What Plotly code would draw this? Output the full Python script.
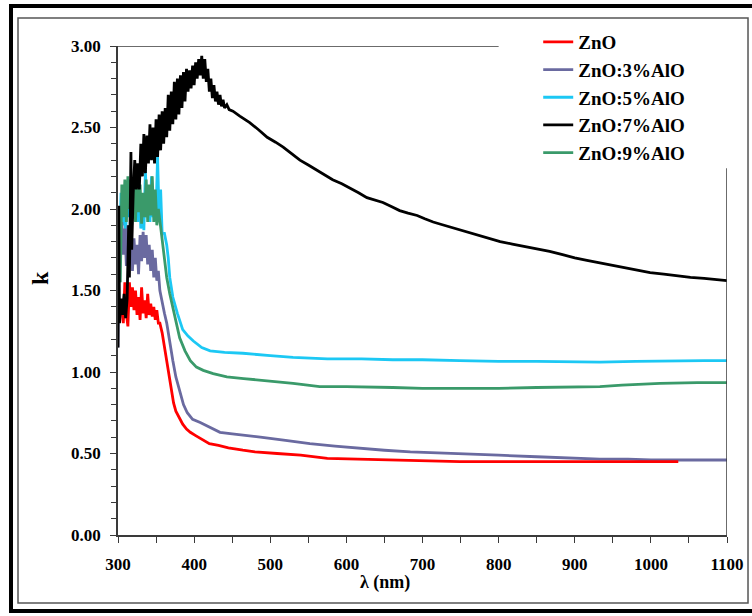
import plotly.graph_objects as go

# ---------------- data ----------------
lam_zno = [305, 307, 309, 311, 313, 315, 317, 319, 321, 323, 325, 327, 329, 331, 333, 335, 337, 339, 341, 343,
           345, 347, 349, 351, 353, 355, 358, 361, 364, 367, 370, 373, 376, 380, 385, 390, 395, 402, 410, 420,
           432, 445, 464, 480, 509, 540, 575, 620, 661, 700, 749, 800, 850, 900, 950, 1000, 1036]
k_zno = [1.38, 1.30, 1.55, 1.36, 1.28, 1.55, 1.40, 1.52, 1.38, 1.50, 1.35, 1.46, 1.32, 1.52, 1.36, 1.44, 1.33, 1.48, 1.35, 1.42,
         1.34, 1.40, 1.32, 1.38, 1.30, 1.30, 1.24, 1.15, 1.05, 0.96, 0.88, 0.81, 0.76, 0.72, 0.68, 0.65, 0.63, 0.61, 0.59, 0.56,
         0.55, 0.535, 0.52, 0.51, 0.50, 0.49, 0.47, 0.465, 0.46, 0.455, 0.45, 0.45, 0.45, 0.45, 0.45, 0.45, 0.45]

lam_3 = [300, 301, 303, 305, 307, 309, 311, 313, 315, 317, 319, 321, 323, 325, 327, 329, 331, 333, 335, 337,
         339, 341, 343, 345, 347, 349, 351, 353, 355, 358, 361, 364, 368, 372, 376, 381, 386, 391, 398, 408,
         420, 434, 450, 470, 487, 520, 552, 585, 618, 650, 684, 720, 749, 800, 850, 900, 933, 970, 1000, 1050, 1100]
k_3 = [1.15, 1.95, 1.70, 1.92, 1.72, 1.88, 1.65, 1.90, 1.68, 1.80, 1.62, 1.82, 1.66, 1.78, 1.60, 1.84, 1.68, 1.86, 1.70, 1.84,
       1.66, 1.78, 1.62, 1.75, 1.58, 1.70, 1.56, 1.62, 1.50, 1.42, 1.36, 1.30, 1.18, 1.07, 0.97, 0.88, 0.80, 0.75, 0.71, 0.69,
       0.66, 0.63, 0.62, 0.61, 0.60, 0.58, 0.56, 0.545, 0.53, 0.52, 0.51, 0.505, 0.50, 0.49, 0.48, 0.47, 0.465, 0.465, 0.46, 0.46, 0.46]

lam_5 = [300, 302, 304, 306, 308, 310, 312, 314, 316, 318, 320, 322, 324, 326, 328, 330, 332, 334, 336, 338,
         340, 342, 344, 346, 348, 350, 352, 354, 356, 358, 361, 364, 366, 368, 372, 378, 385, 392, 399, 410,
         421, 440, 464, 500, 530, 575, 620, 661, 700, 749, 800, 850, 900, 933, 980, 1034, 1070, 1100]
k_5 = [1.40, 1.75, 2.10, 1.90, 2.05, 1.85, 2.10, 1.95, 2.15, 1.90, 2.12, 1.95, 2.20, 1.92, 2.15, 1.88, 2.05, 1.87, 2.24, 1.95,
       2.10, 1.92, 2.20, 1.95, 2.10, 1.98, 2.32, 1.95, 2.12, 1.85, 1.85, 1.78, 1.70, 1.58, 1.46, 1.36, 1.26, 1.22, 1.19, 1.15,
       1.13, 1.12, 1.115, 1.10, 1.09, 1.08, 1.08, 1.075, 1.075, 1.07, 1.065, 1.065, 1.06, 1.06, 1.065, 1.07, 1.07, 1.07]

lam_7 = [300, 301, 302, 304, 306, 308, 310, 312, 314, 315,
         317, 318, 320, 322, 324, 326, 328, 330, 332, 334,
         336, 338, 340, 342, 344, 346, 348, 350, 352, 354,
         356, 358, 360, 362, 364, 366, 368, 370, 372, 374,
         376, 378, 380, 382, 384, 386, 388, 390, 392, 394,
         396, 398, 400, 402, 404, 406, 408, 410, 412, 414,
         416, 418, 420, 422, 424, 426, 428, 430, 432, 434,
         436, 438, 440, 443, 446, 451, 460, 473, 485, 496,
         507, 517, 528, 539, 550, 561, 572, 582, 594, 605,
         616, 627, 638, 648, 659, 670, 681, 693, 703, 714,
         725, 736, 747, 758, 769, 779, 791, 802, 818, 835,
         851, 867, 884, 900, 916, 933, 950, 966, 983, 999,
         1017, 1035, 1052, 1070, 1085, 1100]
k_7 = [1.15, 2.02, 1.30, 1.45, 1.35, 1.48, 1.33, 1.45, 1.90, 1.58,
       2.35, 1.75, 2.10, 2.30, 2.12, 2.28, 2.12, 2.40, 2.20, 2.46,
       2.22, 2.45, 2.28, 2.52, 2.30, 2.50, 2.28, 2.55, 2.32, 2.58,
       2.36, 2.60, 2.40, 2.62, 2.44, 2.70, 2.48, 2.72, 2.52, 2.78,
       2.55, 2.80, 2.58, 2.82, 2.62, 2.84, 2.66, 2.86, 2.72, 2.85,
       2.74, 2.88, 2.76, 2.90, 2.80, 2.92, 2.82, 2.94, 2.80, 2.92,
       2.78, 2.86, 2.72, 2.80, 2.68, 2.76, 2.66, 2.72, 2.64, 2.70,
       2.63, 2.67, 2.62, 2.64, 2.61, 2.60, 2.57, 2.53, 2.485, 2.44,
       2.41, 2.38, 2.34, 2.30, 2.27, 2.24, 2.21, 2.18, 2.155, 2.13,
       2.10, 2.07, 2.055, 2.04, 2.015, 1.99, 1.975, 1.96, 1.94, 1.92,
       1.905, 1.89, 1.875, 1.86, 1.845, 1.83, 1.815, 1.80, 1.785, 1.77,
       1.755, 1.74, 1.72, 1.70, 1.685, 1.67, 1.655, 1.64, 1.625, 1.61,
       1.60, 1.59, 1.58, 1.575, 1.567, 1.56]

lam_9 = [300, 301, 303, 305, 307, 309, 311, 313, 315, 317, 319, 321, 323, 325, 327, 329, 331, 333, 335, 337,
         339, 341, 343, 345, 347, 349, 351, 353, 356, 360, 364, 368, 372, 376, 381, 388, 395, 403, 412, 425,
         443, 465, 487, 510, 530, 565, 600, 661, 700, 749, 800, 850, 900, 933, 962, 1012, 1061, 1100]
k_9 = [1.40, 1.80, 1.55, 2.15, 1.95, 2.18, 1.92, 2.20, 2.00, 2.18, 1.94, 2.12, 1.92, 2.20, 1.98, 2.15, 1.91, 2.10, 1.95, 2.18,
       1.92, 2.15, 1.96, 2.20, 1.92, 2.12, 1.90, 2.00, 1.89, 1.75, 1.58, 1.48, 1.40, 1.30, 1.21, 1.13, 1.07, 1.03, 1.01, 0.99,
       0.97, 0.96, 0.95, 0.94, 0.93, 0.91, 0.91, 0.905, 0.90, 0.90, 0.90, 0.905, 0.91, 0.91, 0.92, 0.93, 0.935, 0.935]

names = ["ZnO", "ZnO:3%AlO", "ZnO:5%AlO", "ZnO:7%AlO", "ZnO:9%AlO"]
colors = ["#FF0000", "#6A6AA0", "#1CC8F4", "#000000", "#3A9A6A"]

x_ticks = [300, 400, 500, 600, 700, 800, 900, 1000, 1100]
y_ticks = [0, 0.5, 1.0, 1.5, 2.0, 2.5, 3.0]

series = {
    "ZnO": (lam_zno, k_zno),
    "ZnO:3%AlO": (lam_3, k_3),
    "ZnO:5%AlO": (lam_5, k_5),
    "ZnO:7%AlO": (lam_7, k_7),
    "ZnO:9%AlO": (lam_9, k_9),
}

FONT = "Liberation Serif"

fig = go.Figure()
draw_order = ["ZnO:5%AlO", "ZnO:3%AlO", "ZnO", "ZnO:9%AlO", "ZnO:7%AlO"]
for nm in draw_order:
    i = names.index(nm)
    xs, ys = series[nm]
    fig.add_trace(go.Scatter(
        x=xs, y=ys, mode="lines", name=nm,
        line=dict(color=colors[i], width=2.8),
        legendrank=i + 1, legendgroup=nm,
    ))

axis_col = "#3a3a3a"
fig.update_layout(
    width=752, height=616,
    margin=dict(l=118, r=25, t=46, b=81, autoexpand=False),
    paper_bgcolor="white", plot_bgcolor="white",
    font=dict(family=FONT, size=17, color="black", weight="bold"),
    showlegend=True,
    legend=dict(
        x=0.69, y=1.047, xanchor="left", yanchor="top",
        bgcolor="rgba(0,0,0,0)", borderwidth=0,
        traceorder="grouped", tracegroupgap=0,
        font=dict(family=FONT, size=19, color="black", weight="bold"),
    ),
    xaxis=dict(
        range=[300, 1100], tickvals=x_ticks, showgrid=False, zeroline=False, automargin=False,
        showline=True, linecolor=axis_col, linewidth=1.5,
        ticks="outside", ticklen=6, tickwidth=1.2, tickcolor=axis_col,
        minor=dict(dtick=50, ticks="outside", ticklen=6, tickwidth=1.2, tickcolor=axis_col),
        ticklabelstandoff=7,
        tickfont=dict(family=FONT, size=17, color="black", weight="bold"),
    ),
    yaxis=dict(
        range=[0, 3], tickvals=y_ticks, tickformat=".2f", showgrid=False, zeroline=False, automargin=False,
        showline=True, linecolor=axis_col, linewidth=1.5,
        ticks="outside", ticklen=6, tickwidth=1.2, tickcolor=axis_col,
        minor=dict(dtick=0.1, ticks="outside", ticklen=5, tickwidth=1.2, tickcolor=axis_col),
        ticklabelstandoff=6,
        tickfont=dict(family=FONT, size=17, color="black", weight="bold"),
    ),
)

# partial top and right frame lines
fig.add_shape(type="line", xref="x", yref="y", x0=300, x1=800, y0=3, y1=3,
              line=dict(color=axis_col, width=1.5))
fig.add_shape(type="line", xref="x", yref="y", x0=1100, x1=1100, y0=-0.04, y1=2.25,
              line=dict(color=axis_col, width=1.5))

# figure borders (outer thick black, inner thin gray)
fig.add_shape(type="rect", xref="paper", yref="paper",
              x0=-0.1757, x1=1.06, y0=-0.1554, y1=1.0818,
              line=dict(color="black", width=4), layer="below")
fig.add_shape(type="rect", xref="paper", yref="paper",
              x0=-0.1642, x1=1.0345, y0=-0.139, y1=1.0573,
              line=dict(color="#555555", width=1.5), layer="below")

# axis titles
fig.add_annotation(text="λ (nm)", xref="paper", yref="paper", x=0.438, y=-0.098,
                   xanchor="center", yanchor="middle",
                   showarrow=False, font=dict(family=FONT, size=18, color="black", weight="bold"))
fig.add_annotation(text="k", xref="paper", yref="paper", x=-0.128, y=0.5256, textangle=-90,
                   xanchor="center", yanchor="middle",
                   showarrow=False, font=dict(family=FONT, size=24, color="black", weight="bold"))

fig.write_html("out.html")
